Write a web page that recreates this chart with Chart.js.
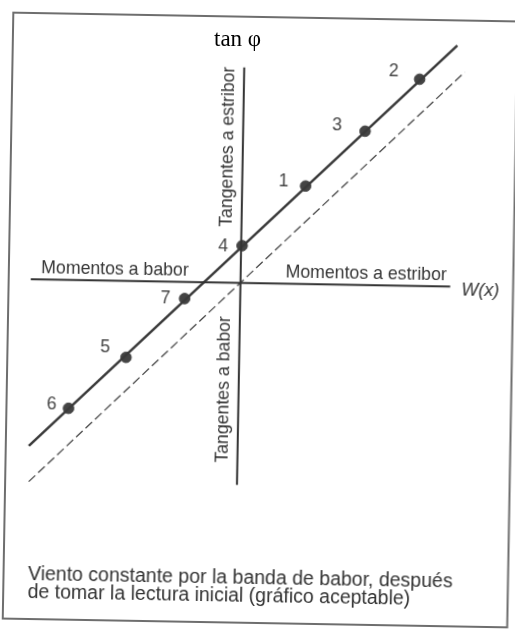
<!DOCTYPE html>
<html lang="es">
<head>
<meta charset="utf-8">
<title>Viento constante por la banda de babor</title>
<script src="https://cdn.jsdelivr.net/npm/chart.js@4.4.1/dist/chart.umd.min.js"></script>
<style>
    body { margin: 0; background: #fff; width: 515px; height: 630px; overflow: hidden; position: relative; }
    #hoja { position: absolute; left: 0; top: 0; width: 515px; height: 630px; transform: rotate(1deg); transform-origin: 260px 320px; }
    #tituloY { position: absolute; left: 214px; top: 27px; font: 23px "Liberation Serif", "Times New Roman", serif; line-height: 23px; color: #000; }
</style>
</head>
<body>
<div id="hoja"><canvas id="graficoEscora" width="515" height="630"></canvas></div>
<div id="tituloY">tan φ</div>
<script>
// lecturas de la prueba: momento escorante W(x) y tangente del ángulo
const lecturas = ["1", "2", "3", "4", "5", "6", "7"];
const momentos = [6.5, 18.0, 12.5, 0.1, -11.6, -17.4, -5.7];
const tangentes = [10.0, 21.1, 15.7, 3.8, -7.8, -13.1, -1.7];

// recta trazada por las lecturas y recta de referencia por el origen
const rectaLecturasX = [-21.4, 21.8];
const rectaLecturasY = [-17.0, 24.6];
const rectaOrigenX = [-21.35, 22.6];
const rectaOrigenY = [-20.65, 21.9];

// extremos de los ejes dibujados
const ejeMomentos = [-21.5, 21.5];
const ejeTangentes = [-20.6, 22.0];

const textoPie = [
    "Viento constante por la banda de babor, después",
    "de tomar la lectura inicial (gráfico aceptable)"
];

window.onload = function () {

    const canvas = document.getElementById('graficoEscora');
    const fuente = '"Liberation Sans", Arial, sans-serif';
    const tinta = '#353535';

    // desplazamiento de cada número respecto a su punto
    const desplazRotulos = [[-22, -4], [-26, -7], [-28, -5], [-19, 1], [-21, -10], [-17, -4], [-19, 0]];

    const rotulos = {
        id: 'rotulos',
        beforeDatasetsDraw(chart) {
            const c = chart.ctx;
            c.save();
            c.strokeStyle = '#6e6e6e';
            c.lineWidth = 2;
            c.strokeRect(8, 17, 504.5, 606);
            c.restore();
        },
        afterDatasetsDraw(chart) {
            const c = chart.ctx;
            const x = chart.scales.x;
            const y = chart.scales.y;
            const x0 = x.getPixelForValue(0);
            const y0 = y.getPixelForValue(0);

            c.save();
            c.fillStyle = tinta;
            c.font = '17.7px ' + fuente;
            c.textBaseline = 'alphabetic';

            c.textAlign = 'left';
            c.fillText('Momentos a babor', x.getPixelForValue(-20.45), y0 - 6.6);
            c.fillText('Momentos a estribor', x.getPixelForValue(4.6), y0 - 6.6);

            c.font = 'italic 18px ' + fuente;
            c.textBaseline = 'middle';
            c.fillText('W(x)', x.getPixelForValue(22.65), y0 + 4);

            c.font = '17.7px ' + fuente;
            c.textAlign = 'center';
            c.textBaseline = 'alphabetic';
            [[13.86, 'Tangentes a estribor'], [-10.9, 'Tangentes a babor']].forEach(([v, t]) => {
                c.save();
                c.translate(x0 - 9.5, y.getPixelForValue(v));
                c.rotate(-Math.PI / 2);
                c.fillText(t, 0, 0);
                c.restore();
            });

            c.fillStyle = '#444';
            c.textBaseline = 'middle';
            chart.getDatasetMeta(4).data.forEach((p, i) => {
                c.fillText(lecturas[i], p.x + desplazRotulos[i][0], p.y + desplazRotulos[i][1]);
            });

            c.fillStyle = '#333';
            c.font = '19.5px ' + fuente;
            c.textAlign = 'left';
            c.textBaseline = 'alphabetic';
            c.fillText(textoPie[0], 32.5, 584);
            c.fillText(textoPie[1], 32.5, 602);
            c.restore();
        }
    };

    const aPuntos = (xs, ys) => xs.map((v, i) => ({ x: v, y: ys[i] }));

    new Chart(canvas, {
        type: 'scatter',
        data: {
            datasets: [
                {
                    data: aPuntos(ejeMomentos, [0, 0]),
                    showLine: true, borderColor: '#333', borderWidth: 2, pointRadius: 0
                },
                {
                    data: aPuntos([0, 0], ejeTangentes),
                    showLine: true, borderColor: '#333', borderWidth: 2, pointRadius: 0
                },
                {
                    data: aPuntos(rectaOrigenX, rectaOrigenY),
                    showLine: true, borderColor: '#4a4a4a', borderWidth: 1.3, borderDash: [9, 4], pointRadius: 0
                },
                {
                    data: aPuntos(rectaLecturasX, rectaLecturasY),
                    showLine: true, borderColor: '#3a3a3a', borderWidth: 2.5, pointRadius: 0
                },
                {
                    data: aPuntos(momentos, tangentes),
                    pointRadius: 5.3, pointBackgroundColor: '#444', pointBorderColor: '#444', pointBorderWidth: 1
                }
            ]
        },
        options: {
            responsive: false,
            animation: false,
            devicePixelRatio: 1,
            layout: { padding: 0 },
            plugins: { legend: { display: false }, tooltip: { enabled: false } },
            scales: {
                x: { type: 'linear', display: false, min: -23.94, max: 27.56 },
                y: { type: 'linear', display: false, min: -34.74, max: 28.26 }
            }
        },
        plugins: [rotulos]
    });

}
</script>
</body>
</html>
